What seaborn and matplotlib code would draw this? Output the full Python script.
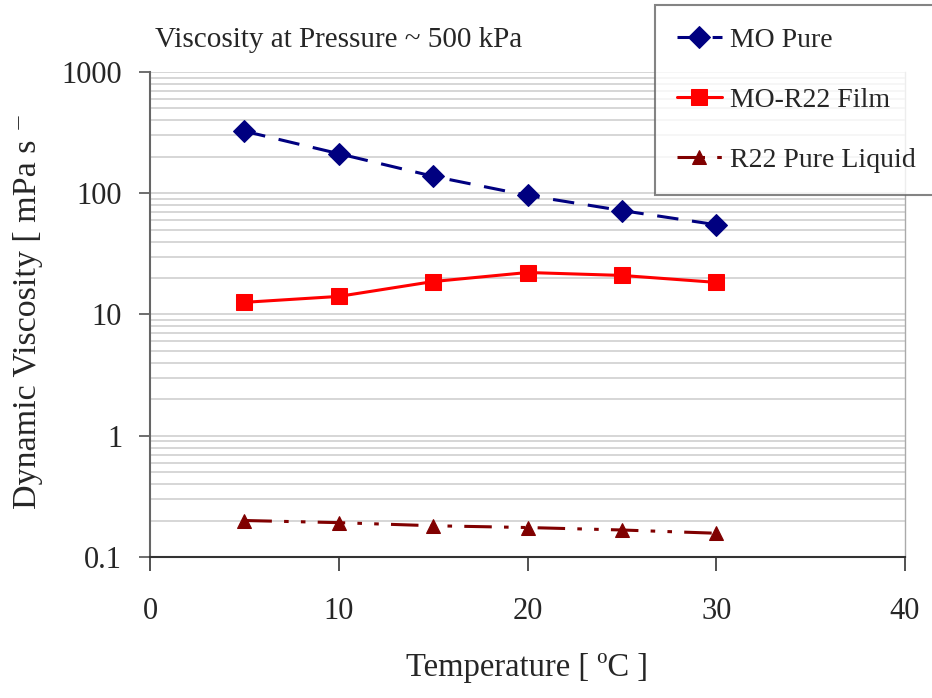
import matplotlib
matplotlib.use("Agg")
import matplotlib.pyplot as plt
import matplotlib.ticker as mticker
import numpy as np
import pandas as pd
import seaborn as sns

# data
temps = [5, 10, 15, 20, 25, 30]
mo_pure = [325, 212, 138, 96, 72, 55]
mo_r22_film = [12.6, 14.1, 18.7, 22.2, 21.0, 18.4]
r22_liquid = [0.200, 0.192, 0.181, 0.175, 0.167, 0.157]
series_names = ["MO Pure", "MO-R22 Film", "R22 Pure Liquid"]

sns.set_style("white")
plt.rcParams["font.family"] = ["Liberation Serif", "DejaVu Serif"]

fig = plt.figure(figsize=(9.32, 6.98), dpi=100)
ax = fig.add_axes([150 / 932, 1 - 557 / 698, 755 / 932, 485 / 698])

df = pd.DataFrame({"T": temps * 3,
                   "mu": mo_pure + mo_r22_film + r22_liquid,
                   "series": [n for n in series_names for _ in temps]})

styles = {
    "MO Pure": dict(color="#000080", marker="D", ms=11, dashes=(7, 4.5)),
    "MO-R22 Film": dict(color="#FF0000", marker="s", ms=11, dashes=None),
    "R22 Pure Liquid": dict(color="#800000", marker="^", ms=10, dashes=(9, 4, 1.5, 4, 1.5, 4)),
}

for name in series_names:
    st = styles[name]
    sub = df[df["series"] == name]
    sns.lineplot(data=sub, x="T", y="mu", ax=ax, color=st["color"],
                 marker=st["marker"], markersize=st["ms"], markeredgecolor=st["color"],
                 linewidth=2.2, label=name, legend=False, zorder=3)
    line = ax.lines[-1]
    if st["dashes"]:
        line.set_dashes(st["dashes"])

ax.set_yscale("log")
ax.set_ylim(0.1, 1000)
ax.set_xlim(0, 40)
ax.set_xticks([0, 10, 20, 30, 40])
ax.yaxis.set_major_locator(mticker.FixedLocator([0.1, 1, 10, 100, 1000]))
ax.yaxis.set_major_formatter(mticker.FixedFormatter(["0.1", "1", "10", "100", "1000"]))
ax.yaxis.set_minor_locator(mticker.LogLocator(base=10, subs=np.arange(2, 10)))
ax.yaxis.set_minor_formatter(mticker.NullFormatter())

ax.grid(True, which="both", axis="y", color="#cccccc", linewidth=1.1)
ax.tick_params(axis="y", which="minor", length=0)
ax.tick_params(axis="y", which="major", direction="out", length=8, width=1.2,
               color="#555555", labelsize=22, pad=12, left=True)
ax.tick_params(axis="x", direction="out", length=10, width=1.2, color="#333333",
               labelsize=22, pad=19, bottom=True)

ax.spines["top"].set_visible(False)
ax.spines["right"].set_color("#aaaaaa")
ax.spines["right"].set_linewidth(1.0)
ax.spines["left"].set_color("#666666")
ax.spines["left"].set_linewidth(1.5)
ax.spines["bottom"].set_color("#333333")
ax.spines["bottom"].set_linewidth(1.5)

ax.set_xlabel("Temperature [ ºC ]", fontsize=23.5, labelpad=19)
ax.set_ylabel("")
fig.text(28 / 932, 1 - 311 / 698, "Dynamic Viscosity [ mPa s ⁻",
         rotation=90, fontsize=24.5, ha="center", va="center")

fig.text(155 / 932, 1 - 40 / 698, "Viscosity at Pressure ~ 500 kPa",
         fontsize=21, ha="left", va="center")

handles = [ax.lines[i] for i in range(3)]
leg = fig.legend(handles, series_names, loc="upper left",
                 bbox_to_anchor=(655 / 932, 1 - 5 / 698), fontsize=20,
                 frameon=True, fancybox=False, edgecolor="#666666",
                 handlelength=1.6, labelspacing=1.25, borderpad=0.8,
                 handletextpad=0.3, borderaxespad=0)
leg.get_frame().set_linewidth(1.5)

fig.savefig("out.png", dpi=100)
